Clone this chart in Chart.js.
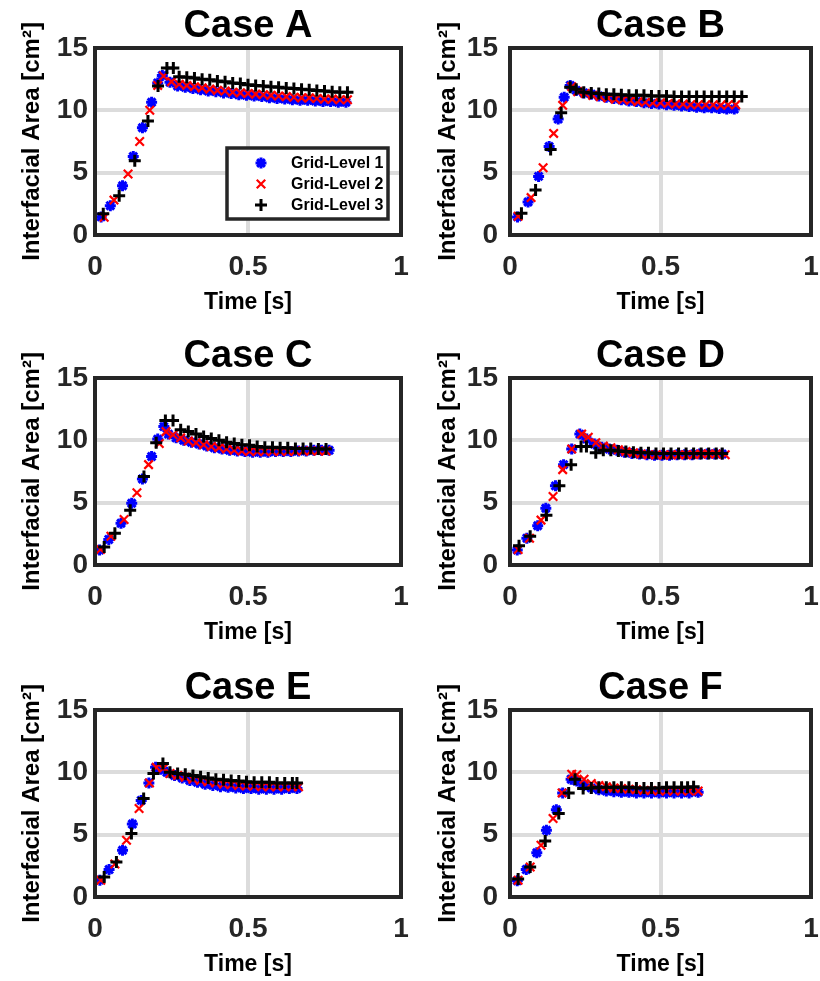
<!DOCTYPE html>
<html>
<head>
<meta charset="utf-8">
<script src="https://cdn.jsdelivr.net/npm/chart.js@4.4.1/dist/chart.umd.min.js"></script>
<style>
  html, body { margin: 0; padding: 0; background: #fff; }
  #fig { position: relative; width: 820px; height: 981px; overflow: hidden; }
  #fig canvas { position: absolute; }
</style>
</head>
<body>
<div id="fig">
  <canvas id="cA" width="410" height="320" style="left:0;top:0"></canvas>
  <canvas id="cB" width="410" height="320" style="left:410px;top:0"></canvas>
  <canvas id="cC" width="410" height="320" style="left:0;top:330px"></canvas>
  <canvas id="cD" width="410" height="320" style="left:410px;top:330px"></canvas>
  <canvas id="cE" width="410" height="320" style="left:0;top:662px"></canvas>
  <canvas id="cF" width="410" height="320" style="left:410px;top:662px"></canvas>
</div>
<script>
// series labels and axis ticks
const seriesLabels = ['Grid-Level 1', 'Grid-Level 2', 'Grid-Level 3'];
const xTicks = [0, 0.5, 1];
const yTicks = [0, 5, 10, 15];

// Case A
const caseA_t1 = [0.02,0.05,0.09,0.125,0.155,0.185,0.205,0.22,0.245,0.27,0.295,0.32,0.345,0.37,0.395,0.42,0.445,0.47,0.495,0.52,0.545,0.57,0.595,0.62,0.645,0.67,0.695,0.72,0.745,0.77,0.795,0.82];
const caseA_y1 = [1.45,2.35,3.95,6.3,8.6,10.65,12.2,12.8,12.25,11.95,11.85,11.75,11.65,11.55,11.5,11.4,11.35,11.25,11.2,11.15,11.1,11.0,10.95,10.9,10.85,10.8,10.8,10.75,10.7,10.7,10.65,10.65];
const caseA_t2 = [0.03,0.062,0.108,0.146,0.179,0.205,0.224,0.25,0.275,0.3,0.325,0.35,0.375,0.4,0.425,0.45,0.475,0.5,0.525,0.55,0.575,0.6,0.625,0.65,0.675,0.7,0.725,0.75,0.775,0.8,0.825];
const caseA_y2 = [1.42,2.8,4.9,7.5,10.0,12.0,12.75,12.3,12.1,12.0,11.9,11.8,11.7,11.6,11.55,11.45,11.4,11.35,11.3,11.25,11.2,11.15,11.1,11.05,11.0,11.0,10.95,10.9,10.9,10.85,10.85];
const caseA_t3 = [0.027,0.079,0.13,0.173,0.206,0.235,0.256,0.275,0.3,0.325,0.35,0.375,0.4,0.425,0.45,0.475,0.5,0.525,0.55,0.575,0.6,0.625,0.65,0.675,0.7,0.725,0.75,0.775,0.8,0.825];
const caseA_y3 = [1.7,3.15,5.95,9.15,11.95,13.4,13.4,12.7,12.65,12.6,12.5,12.45,12.35,12.3,12.2,12.15,12.05,12.0,11.95,11.9,11.85,11.8,11.75,11.7,11.65,11.6,11.55,11.5,11.45,11.45];

// Case B
const caseB_t1 = [0.025,0.06,0.095,0.13,0.16,0.18,0.2,0.22,0.245,0.27,0.295,0.32,0.345,0.37,0.395,0.42,0.445,0.47,0.495,0.52,0.545,0.57,0.595,0.62,0.645,0.67,0.695,0.72,0.745];
const caseB_y1 = [1.45,2.65,4.7,7.1,9.3,11.05,12.0,11.6,11.4,11.3,11.15,11.05,10.95,10.85,10.75,10.7,10.6,10.55,10.5,10.45,10.4,10.35,10.3,10.25,10.2,10.2,10.15,10.1,10.1];
const caseB_t2 = [0.027,0.07,0.11,0.145,0.175,0.205,0.225,0.25,0.275,0.3,0.325,0.35,0.375,0.4,0.425,0.45,0.475,0.5,0.525,0.55,0.575,0.6,0.625,0.65,0.675,0.7,0.725,0.75];
const caseB_y2 = [1.5,3.0,5.4,8.15,10.4,11.9,11.5,11.35,11.2,11.1,11.0,10.9,10.85,10.8,10.7,10.65,10.6,10.6,10.55,10.5,10.5,10.45,10.45,10.45,10.45,10.4,10.45,10.45];
const caseB_t3 = [0.038,0.085,0.135,0.17,0.2,0.22,0.245,0.27,0.295,0.32,0.345,0.37,0.395,0.42,0.445,0.47,0.495,0.52,0.545,0.57,0.595,0.62,0.645,0.67,0.695,0.72,0.745,0.77];
const caseB_y3 = [1.75,3.6,6.85,9.8,11.85,11.7,11.45,11.4,11.35,11.3,11.3,11.25,11.2,11.2,11.2,11.15,11.15,11.15,11.1,11.1,11.1,11.1,11.1,11.1,11.1,11.1,11.1,11.1];

// Case C
const caseC_t1 = [0.015,0.045,0.085,0.12,0.155,0.185,0.205,0.225,0.24,0.265,0.29,0.315,0.34,0.365,0.39,0.415,0.44,0.465,0.49,0.515,0.54,0.565,0.59,0.615,0.64,0.665,0.69,0.715,0.74,0.765];
const caseC_y1 = [1.2,2.05,3.35,4.95,6.9,8.7,10.1,11.1,10.5,10.2,10.0,9.85,9.7,9.55,9.4,9.3,9.2,9.15,9.1,9.05,9.05,9.05,9.1,9.1,9.1,9.15,9.15,9.2,9.2,9.2];
const caseC_t2 = [0.018,0.052,0.095,0.137,0.175,0.21,0.232,0.255,0.28,0.305,0.33,0.355,0.38,0.405,0.43,0.455,0.48,0.505,0.53,0.555,0.58,0.605,0.63,0.655,0.68,0.705,0.73,0.755];
const caseC_y2 = [1.25,2.3,3.65,5.8,8.05,9.75,10.7,10.45,10.2,9.95,9.8,9.65,9.5,9.4,9.3,9.2,9.15,9.1,9.1,9.1,9.1,9.1,9.1,9.15,9.15,9.15,9.15,9.15];
const caseC_t3 = [0.03,0.065,0.115,0.16,0.2,0.23,0.255,0.28,0.305,0.33,0.355,0.38,0.405,0.43,0.455,0.48,0.505,0.53,0.555,0.58,0.605,0.63,0.655,0.68,0.705,0.73,0.755];
const caseC_y3 = [1.45,2.55,4.4,7.1,9.8,11.6,11.6,10.85,10.7,10.5,10.3,10.15,10.0,9.85,9.75,9.65,9.6,9.5,9.45,9.45,9.4,9.4,9.35,9.35,9.35,9.3,9.3];

// Case D
const caseD_t1 = [0.024,0.056,0.092,0.119,0.151,0.178,0.205,0.232,0.255,0.28,0.305,0.33,0.355,0.38,0.405,0.43,0.455,0.48,0.505,0.53,0.555,0.58,0.605,0.63,0.655,0.68,0.705];
const caseD_y1 = [1.2,2.15,3.15,4.55,6.35,8.05,9.3,10.5,10.1,9.7,9.45,9.3,9.2,9.05,8.95,8.9,8.85,8.8,8.8,8.8,8.85,8.85,8.85,8.9,8.9,8.9,8.9];
const caseD_t2 = [0.027,0.065,0.103,0.143,0.175,0.205,0.238,0.26,0.285,0.31,0.335,0.36,0.385,0.41,0.435,0.46,0.485,0.51,0.535,0.56,0.585,0.61,0.635,0.66,0.685,0.715];
const caseD_y2 = [1.25,2.15,3.6,5.5,7.65,9.3,10.5,10.25,9.8,9.55,9.4,9.25,9.1,9.0,8.9,8.85,8.85,8.8,8.85,8.85,8.85,8.85,8.9,8.9,8.9,8.85];
const caseD_t3 = [0.03,0.067,0.121,0.164,0.203,0.236,0.254,0.285,0.31,0.335,0.36,0.385,0.41,0.435,0.46,0.485,0.51,0.535,0.56,0.585,0.61,0.635,0.66,0.685,0.705];
const caseD_y3 = [1.55,2.3,4.0,6.35,8.05,9.5,9.5,9.0,9.2,9.2,9.15,9.1,9.05,9.0,9.0,8.95,8.95,8.95,8.95,8.95,8.95,8.95,8.95,8.95,8.95];

// Case E
const caseE_t1 = [0.016,0.046,0.09,0.122,0.151,0.176,0.198,0.215,0.235,0.26,0.285,0.31,0.335,0.36,0.385,0.41,0.435,0.46,0.485,0.51,0.535,0.56,0.585,0.61,0.635,0.66];
const caseE_y1 = [1.35,2.2,3.75,5.85,7.75,9.15,10.4,10.25,10.0,9.75,9.55,9.35,9.2,9.05,8.95,8.85,8.8,8.75,8.7,8.7,8.65,8.65,8.65,8.65,8.7,8.7];
const caseE_t2 = [0.019,0.065,0.103,0.144,0.178,0.2,0.222,0.245,0.27,0.295,0.32,0.345,0.37,0.395,0.42,0.445,0.47,0.495,0.52,0.545,0.57,0.595,0.62,0.645,0.665];
const caseE_y2 = [1.35,2.65,4.55,7.1,9.15,10.4,10.3,9.9,9.75,9.6,9.45,9.35,9.25,9.15,9.05,9.0,8.95,8.9,8.9,8.85,8.85,8.85,8.85,8.85,8.85];
const caseE_t3 = [0.03,0.07,0.119,0.159,0.191,0.222,0.245,0.27,0.295,0.32,0.345,0.37,0.395,0.42,0.445,0.47,0.495,0.52,0.545,0.57,0.595,0.62,0.645,0.66];
const caseE_y3 = [1.6,2.8,5.1,7.9,9.9,10.7,10.0,9.9,9.85,9.75,9.65,9.55,9.45,9.4,9.35,9.3,9.25,9.2,9.2,9.2,9.15,9.15,9.15,9.15];

// Case F
const caseF_t1 = [0.024,0.054,0.089,0.121,0.154,0.175,0.203,0.222,0.245,0.27,0.295,0.32,0.345,0.37,0.395,0.42,0.445,0.47,0.495,0.52,0.545,0.57,0.595,0.625];
const caseF_y1 = [1.3,2.2,3.55,5.35,7.0,8.35,9.45,9.3,8.95,8.75,8.6,8.5,8.45,8.4,8.4,8.35,8.35,8.35,8.35,8.35,8.35,8.35,8.35,8.4];
const caseF_t2 = [0.027,0.067,0.103,0.143,0.173,0.205,0.222,0.246,0.27,0.295,0.32,0.345,0.37,0.395,0.42,0.445,0.47,0.495,0.52,0.545,0.57,0.595,0.625];
const caseF_y2 = [1.35,2.4,4.15,6.3,8.35,9.85,9.8,9.45,9.1,8.95,8.85,8.75,8.7,8.65,8.6,8.55,8.55,8.5,8.5,8.5,8.5,8.5,8.5];
const caseF_t3 = [0.027,0.067,0.117,0.162,0.195,0.216,0.243,0.27,0.295,0.32,0.345,0.37,0.395,0.42,0.445,0.47,0.495,0.52,0.545,0.57,0.59,0.61];
const caseF_y3 = [1.45,2.4,4.5,6.7,8.35,9.45,8.7,8.75,8.8,8.8,8.8,8.8,8.8,8.75,8.75,8.75,8.75,8.8,8.8,8.8,8.8,8.85];

const FONT = "'Liberation Sans', Arial, Helvetica, sans-serif";
const AXIS_COLOR = '#262626';

// marker look per grid level (MATLAB '*', 'x', '+')
const markers = [
  { style: 'star',     color: '#0000ff', radius: 5.5, width: 3,   order: 3 },
  { style: 'crossRot', color: '#ff0000', radius: 6,   width: 2.2, order: 2 },
  { style: 'cross',    color: '#000000', radius: 6,   width: 3,   order: 1 },
];

function toPoints(t, y) {
  return t.map((x, i) => ({ x: x, y: y[i] }));
}

// axes box drawn over the data, like MATLAB's Box on
const framePlugin = {
  id: 'frame',
  afterDatasetsDraw(chart) {
    const { ctx, chartArea: a } = chart;
    ctx.save();
    ctx.strokeStyle = AXIS_COLOR;
    ctx.lineWidth = 4;
    ctx.strokeRect(a.left, a.top, a.right - a.left, a.bottom - a.top);
    ctx.restore();
  }
};

function drawMarker(ctx, m, x, y) {
  const r = m.radius;
  const d = r * Math.SQRT1_2;
  ctx.beginPath();
  if (m.style === 'cross' || m.style === 'star') {
    ctx.moveTo(x - r, y); ctx.lineTo(x + r, y);
    ctx.moveTo(x, y - r); ctx.lineTo(x, y + r);
  }
  if (m.style === 'crossRot' || m.style === 'star') {
    ctx.moveTo(x - d, y - d); ctx.lineTo(x + d, y + d);
    ctx.moveTo(x - d, y + d); ctx.lineTo(x + d, y - d);
  }
  ctx.strokeStyle = m.color;
  ctx.lineWidth = m.width;
  ctx.stroke();
}

// boxed legend sitting inside the Case A axes
const boxLegendPlugin = {
  id: 'boxLegend',
  afterDraw(chart, args, opts) {
    if (!opts.show) return;
    const { ctx, chartArea: a } = chart;
    const left = a.left + 132, top = a.top + 100, w = 161, h = 71;
    ctx.save();
    ctx.fillStyle = '#ffffff';
    ctx.fillRect(left, top, w, h);
    ctx.strokeStyle = AXIS_COLOR;
    ctx.lineWidth = 3.5;
    ctx.strokeRect(left, top, w, h);
    ctx.font = 'bold 16px ' + FONT;
    ctx.textBaseline = 'middle';
    seriesLabels.forEach((lab, i) => {
      const yy = top + 15 + i * 21;
      drawMarker(ctx, markers[i], left + 34, yy);
      ctx.fillStyle = '#000';
      ctx.fillText(lab, left + 64, yy + 1);
    });
    ctx.restore();
  }
};

function makeChart(id, title, col, series, withLegend) {
  const datasets = series.map((s, i) => ({
    label: seriesLabels[i],
    data: toPoints(s[0], s[1]),
    showLine: false,
    pointStyle: markers[i].style,
    pointRadius: markers[i].radius,
    pointBorderWidth: markers[i].width,
    borderColor: markers[i].color,
    backgroundColor: markers[i].color,
    order: markers[i].order,
  }));
  const yWidth = col === 0 ? 95 : 100;
  const tickPad = col === 0 ? 7 : 12;
  const titlePad = col === 0 ? 18 : 24;
  return new Chart(document.getElementById(id), {
    type: 'scatter',
    data: { datasets },
    plugins: [framePlugin, boxLegendPlugin],
    options: {
      responsive: false,
      devicePixelRatio: 1,
      animation: false,
      events: [],
      layout: { padding: { left: 0, right: col === 0 ? 7 : 2, top: 0, bottom: 0 } },
      plugins: {
        legend: { display: false },
        tooltip: { enabled: false },
        title: {
          display: true,
          text: title,
          fullSize: false,
          color: '#000',
          font: { family: FONT, size: 38, weight: 'bold', lineHeight: 1 },
          padding: { top: 8, bottom: 2 },
        },
        boxLegend: { show: withLegend },
      },
      scales: {
        x: {
          type: 'linear',
          min: xTicks[0],
          max: xTicks[xTicks.length - 1],
          afterBuildTicks: (s) => { s.ticks = xTicks.map(v => ({ value: v })); },
          ticks: {
            color: AXIS_COLOR, padding: 15,
            font: { family: FONT, size: 28, weight: 'bold' },
            callback: (v) => String(v),
          },
          grid: { color: '#dcdcdc', lineWidth: 4, drawTicks: false },
          border: { display: false },
          title: {
            display: true, text: 'Time [s]', color: '#000',
            font: { family: FONT, size: 23, weight: 'bold' },
            padding: { top: 0, bottom: 4 },
          },
          afterFit: (s) => { s.height = 85; s.paddingLeft = 0; s.paddingRight = 0; },
        },
        y: {
          type: 'linear',
          min: yTicks[0],
          max: yTicks[yTicks.length - 1],
          afterBuildTicks: (s) => { s.ticks = yTicks.map(v => ({ value: v })); },
          ticks: {
            color: AXIS_COLOR, padding: tickPad,
            font: { family: FONT, size: 28, weight: 'bold' },
            callback: (v) => String(v),
          },
          grid: { color: '#dcdcdc', lineWidth: 4, drawTicks: false },
          border: { display: false },
          title: {
            display: true, text: 'Interfacial Area [cm²]', color: '#000',
            font: { family: FONT, size: 24, weight: 'bold' },
            padding: { top: titlePad, bottom: 0 },
          },
          afterFit: (s) => { s.width = yWidth; s.paddingTop = 0; s.paddingBottom = 0; },
        },
      },
    },
  });
}

makeChart('cA', 'Case A', 0, [[caseA_t1, caseA_y1], [caseA_t2, caseA_y2], [caseA_t3, caseA_y3]], true);
makeChart('cB', 'Case B', 1, [[caseB_t1, caseB_y1], [caseB_t2, caseB_y2], [caseB_t3, caseB_y3]], false);
makeChart('cC', 'Case C', 0, [[caseC_t1, caseC_y1], [caseC_t2, caseC_y2], [caseC_t3, caseC_y3]], false);
makeChart('cD', 'Case D', 1, [[caseD_t1, caseD_y1], [caseD_t2, caseD_y2], [caseD_t3, caseD_y3]], false);
makeChart('cE', 'Case E', 0, [[caseE_t1, caseE_y1], [caseE_t2, caseE_y2], [caseE_t3, caseE_y3]], false);
makeChart('cF', 'Case F', 1, [[caseF_t1, caseF_y1], [caseF_t2, caseF_y2], [caseF_t3, caseF_y3]], false);
</script>
</body>
</html>
